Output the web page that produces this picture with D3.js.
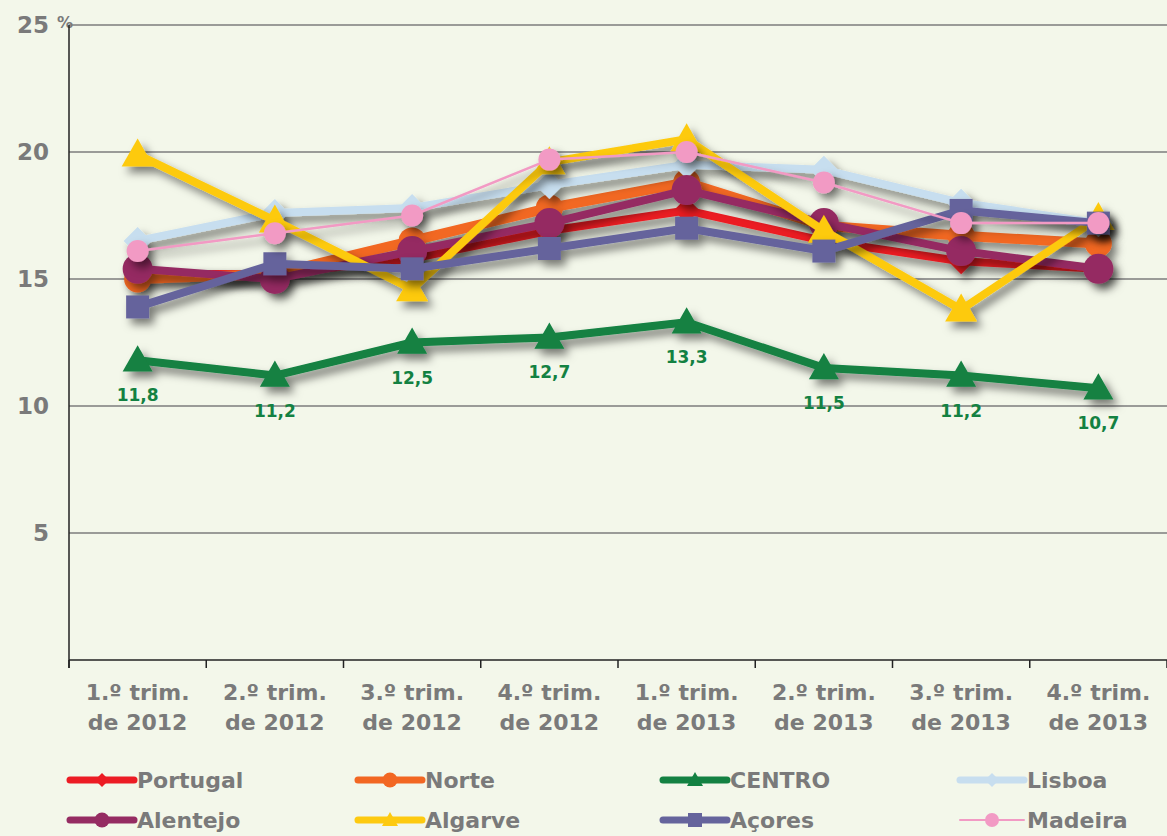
<!DOCTYPE html>
<html>
<head>
<meta charset="utf-8">
<script src="https://d3js.org/d3.v7.min.js"></script>
<style>
  body { margin: 0; background: #f3f7ea; }
  svg { display: block; font-family: "DejaVu Sans", Verdana, sans-serif; }
</style>
</head>
<body>
<svg id="chart"></svg>
<script>
// quarters and tick labels
var quarters = ["1.º trim.|de 2012", "2.º trim.|de 2012", "3.º trim.|de 2012", "4.º trim.|de 2012",
                "1.º trim.|de 2013", "2.º trim.|de 2013", "3.º trim.|de 2013", "4.º trim.|de 2013"];
var yTicks = [5, 10, 15, 20, 25];

// series values (%)
var portugal = [15.2, 15.2, 15.8, 16.9, 17.7, 16.5, 15.7, 15.4];
var norte    = [15.0, 15.2, 16.5, 17.8, 18.8, 17.1, 16.7, 16.4];
var centro   = [11.8, 11.2, 12.5, 12.7, 13.3, 11.5, 11.2, 10.7];
var lisboa   = [16.5, 17.6, 17.8, 18.7, 19.5, 19.3, 18.0, 17.2];
var alentejo = [15.4, 15.0, 16.1, 17.2, 18.5, 17.2, 16.1, 15.4];
var algarve  = [19.9, 17.3, 14.6, 19.6, 20.5, 16.9, 13.8, 17.4];
var acores   = [13.9, 15.6, 15.4, 16.2, 17.0, 16.1, 17.7, 17.2];
var madeira  = [16.1, 16.8, 17.5, 19.7, 20.0, 18.8, 17.2, 17.2];

var seriesNames = ["Portugal", "Norte", "CENTRO", "Lisboa", "Alentejo", "Algarve", "Açores", "Madeira"];

var styles = {
  "Portugal": {color: "#ec1c24", width: 8, shape: "diamond", size: 26, lsize: 14},
  "Norte":    {color: "#f26722", width: 10, shape: "circle", size: 27, lsize: 15},
  "CENTRO":   {color: "#138142", width: 8, shape: "triangle", size: 30, lsize: 16},
  "Lisboa":   {color: "#c7deef", width: 8, shape: "diamond", size: 28, lsize: 14},
  "Alentejo": {color: "#952c62", width: 8, shape: "circle", size: 30, lsize: 15},
  "Algarve":  {color: "#fdca10", width: 8, shape: "triangle", size: 32, lsize: 16},
  "Açores":   {color: "#65649c", width: 8, shape: "square", size: 23, lsize: 14},
  "Madeira":  {color: "#f29ac4", width: 2.5, shape: "circle", size: 22, lsize: 14}
};

var values = {
  "Portugal": portugal, "Norte": norte, "CENTRO": centro, "Lisboa": lisboa,
  "Alentejo": alentejo, "Algarve": algarve, "Açores": acores, "Madeira": madeira
};

var W = 1167, H = 836;
var margin = {top: 25, right: 0, bottom: 176, left: 69};

var svg = d3.select("#chart").attr("width", W).attr("height", H);

var defs = svg.append("defs");
var f = defs.append("filter").attr("id", "shadow")
  .attr("x", "-20%").attr("y", "-20%").attr("width", "140%").attr("height", "140%");
f.append("feDropShadow").attr("dx", 5).attr("dy", 6).attr("stdDeviation", 4)
  .attr("flood-color", "#000").attr("flood-opacity", 0.5);

svg.append("rect").attr("width", W).attr("height", H).attr("fill", "#f3f7ea");

var x = d3.scaleBand().domain(quarters).range([margin.left, W - margin.right]);
var y = d3.scaleLinear().domain([0, 25]).range([H - margin.bottom, margin.top]);
var cx = function(i) { return x(quarters[i]) + x.bandwidth() / 2; };

// grid lines
svg.append("g").selectAll("line").data(yTicks).enter().append("line")
  .attr("x1", margin.left).attr("x2", W)
  .attr("y1", d => y(d)).attr("y2", d => y(d))
  .attr("stroke", "#7d7d7d").attr("stroke-width", 1.5);

// y labels
var yl = svg.append("g").attr("font-weight", "bold").attr("font-size", 23).attr("fill", "#7a7a7a");
yl.selectAll("text").data(yTicks).enter().append("text")
  .attr("x", 49).attr("y", d => y(d) + 8).attr("text-anchor", "end")
  .text(d => d);
yl.append("text").attr("x", 57).attr("y", y(25) + 3).attr("font-size", 16).text("%");

// axes
svg.append("line").attr("x1", margin.left).attr("x2", margin.left)
  .attr("y1", y(25)).attr("y2", y(0) + 8).attr("stroke", "#222").attr("stroke-width", 1.5);
svg.append("line").attr("x1", margin.left).attr("x2", W)
  .attr("y1", y(0)).attr("y2", y(0)).attr("stroke", "#222").attr("stroke-width", 1.5);
svg.append("g").selectAll("line").data(d3.range(quarters.length + 1)).enter().append("line")
  .attr("x1", i => margin.left + i * x.bandwidth()).attr("x2", i => margin.left + i * x.bandwidth())
  .attr("y1", y(0)).attr("y2", y(0) + 8).attr("stroke", "#222").attr("stroke-width", 1.5);

// x labels
var xl = svg.append("g").attr("font-weight", "bold").attr("font-size", 22).attr("fill", "#7a7a7a")
  .attr("text-anchor", "middle");
quarters.forEach(function(q, i) {
  var parts = q.split("|");
  var t = xl.append("text").attr("x", cx(i)).attr("y", 700);
  t.append("tspan").attr("x", cx(i)).text(parts[0]);
  t.append("tspan").attr("x", cx(i)).attr("dy", 30).text(parts[1]);
});

function marker(sel, shape, size, color) {
  var s = size / 2;
  if (shape === "circle") {
    return sel.append("circle").attr("r", s).attr("fill", color);
  }
  var p;
  if (shape === "diamond") p = [[0, -s], [s, 0], [0, s], [-s, 0]];
  if (shape === "triangle") p = [[0, -s], [s, s * 0.75], [-s, s * 0.75]];
  if (shape === "square") p = [[-s, -s], [s, -s], [s, s], [-s, s]];
  return sel.append("path").attr("d", "M" + p.join("L") + "Z").attr("fill", color);
}

var line = d3.line().x((d, i) => cx(i)).y(d => y(d));

var plot = svg.append("g");
seriesNames.forEach(function(name) {
  var st = styles[name];
  var g = plot.append("g").attr("filter", "url(#shadow)");
  g.append("path").datum(values[name]).attr("d", line)
    .attr("fill", "none").attr("stroke", st.color).attr("stroke-width", st.width)
    .attr("stroke-linejoin", "round");
  values[name].forEach(function(v, i) {
    var m = g.append("g").attr("transform", "translate(" + cx(i) + "," + y(v) + ")");
    marker(m, st.shape, st.size, st.color);
  });
});

// CENTRO labels
svg.append("g").attr("font-weight", "bold").attr("font-size", 17).attr("fill", "#138142")
  .attr("text-anchor", "middle")
  .selectAll("text").data(centro).enter().append("text")
  .attr("x", (d, i) => cx(i)).attr("y", d => y(d) + 41)
  .text(d => d3.format(".1f")(d).replace(".", ","));

// legend
var legendPos = [[70, 780], [358, 780], [663, 780], [960, 780],
                 [70, 820], [358, 820], [663, 820], [960, 820]];
var lg = svg.append("g");
seriesNames.forEach(function(name, k) {
  var st = styles[name];
  var lx = legendPos[k][0], ly = legendPos[k][1];
  var g = lg.append("g");
  g.append("line").attr("x1", lx).attr("x2", lx + 64).attr("y1", ly).attr("y2", ly)
    .attr("stroke", st.color).attr("stroke-width", name === "Madeira" ? 2 : 7)
    .attr("stroke-linecap", "round");
  var m = g.append("g").attr("transform", "translate(" + (lx + 32) + "," + ly + ")");
  marker(m, st.shape, st.lsize, st.color);
  g.append("text").attr("x", lx + 67).attr("y", ly + 8)
    .attr("font-weight", "bold").attr("font-size", 22).attr("fill", "#7a7a7a")
    .text(name);
});
</script>
</body>
</html>
